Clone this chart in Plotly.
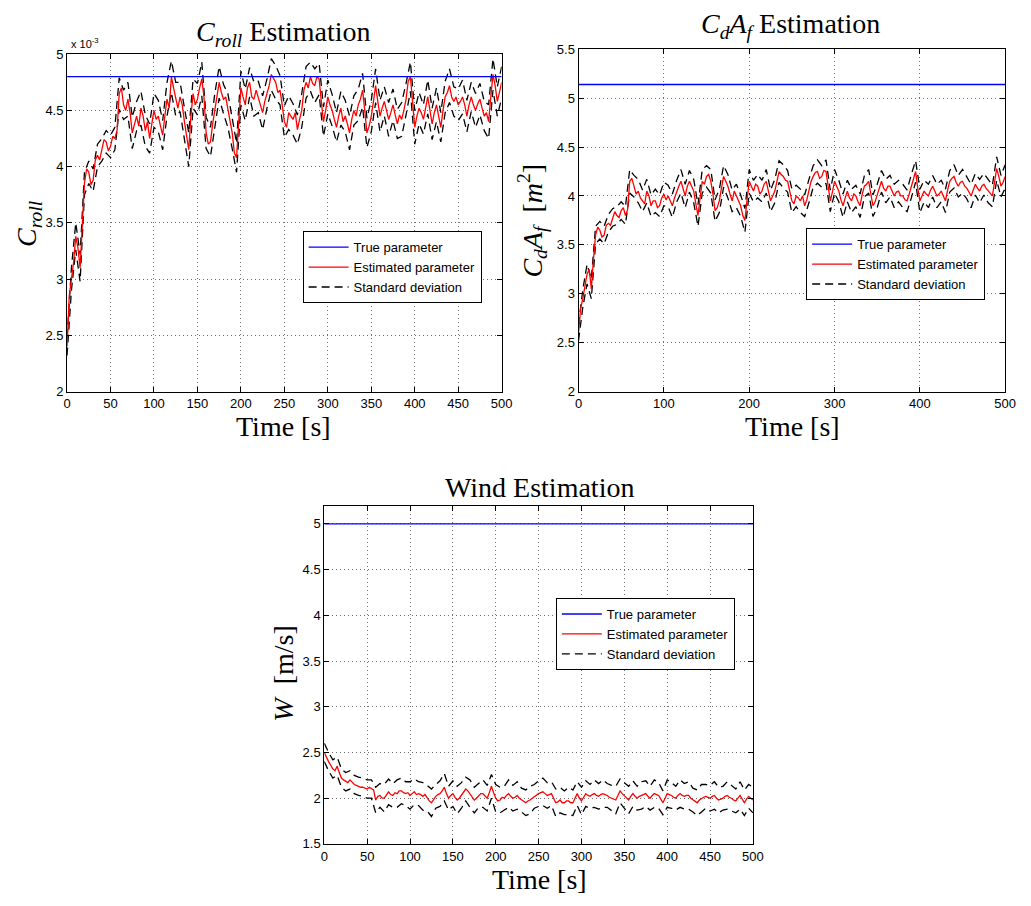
import plotly.graph_objects as go

# ---------------- data ----------------
# fine time grid (2.5 s) for the estimates, coarse grid (5 s) for the std band
time_fine = [i * 2.5 for i in range(201)]
time_s = [i * 5 for i in range(101)]

# C_roll in units of 1e-3
croll_true = 4.8
croll_est = [2.40, 2.85, 3.00, 3.15, 3.38, 3.28, 3.10, 3.50, 3.85, 3.98, 3.95, 3.84, 3.88, 4.06, 4.10, 4.06, 4.15, 4.24, 4.22, 4.14,
             4.18, 4.27, 4.25, 4.32, 4.65, 4.70, 4.55, 4.50, 4.60, 4.48, 4.30, 4.38, 4.45, 4.36, 4.52, 4.45, 4.32, 4.40, 4.25, 4.38,
             4.50, 4.42, 4.45, 4.36, 4.28, 4.45, 4.60, 4.52, 4.80, 4.70, 4.60, 4.52, 4.62, 4.55, 4.40, 4.28, 4.15, 4.45, 4.65, 4.55,
             4.60, 4.70, 4.78, 4.62, 4.30, 4.20, 4.22, 4.38, 4.50, 4.65, 4.75, 4.66, 4.60, 4.62, 4.50, 4.42, 4.30, 4.12, 4.08, 4.40,
             4.70, 4.62, 4.55, 4.70, 4.75, 4.62, 4.60, 4.68, 4.62, 4.55, 4.48, 4.58, 4.65, 4.72, 4.82, 4.78, 4.75, 4.66, 4.68, 4.55,
             4.40, 4.35, 4.48, 4.45, 4.42, 4.48, 4.33, 4.42, 4.50, 4.68, 4.75, 4.70, 4.80, 4.74, 4.72, 4.80, 4.78, 4.58, 4.40, 4.50,
             4.62, 4.55, 4.50, 4.42, 4.35, 4.45, 4.52, 4.40, 4.45, 4.38, 4.30, 4.42, 4.50, 4.45, 4.55, 4.60, 4.68, 4.50, 4.30, 4.36,
             4.45, 4.58, 4.72, 4.58, 4.45, 4.52, 4.58, 4.50, 4.42, 4.48, 4.55, 4.46, 4.38, 4.46, 4.42, 4.50, 4.60, 4.76, 4.80, 4.58,
             4.35, 4.45, 4.52, 4.48, 4.42, 4.52, 4.62, 4.50, 4.38, 4.48, 4.55, 4.45, 4.35, 4.50, 4.62, 4.66, 4.72, 4.62, 4.58, 4.62,
             4.55, 4.58, 4.62, 4.55, 4.45, 4.55, 4.62, 4.55, 4.50, 4.56, 4.60, 4.52, 4.45, 4.48, 4.40, 4.62, 4.82, 4.72, 4.58, 4.66,
             4.75]
croll_sd = [0.08, 0.10, 0.12, 0.12, 0.10, 0.10, 0.10, 0.10, 0.10, 0.10,
            0.10, 0.10, 0.14, 0.13, 0.15, 0.14, 0.13, 0.15, 0.14, 0.13,
            0.15, 0.14, 0.13, 0.15, 0.14, 0.15, 0.13, 0.14, 0.15, 0.13,
            0.14, 0.15, 0.14, 0.13, 0.15, 0.14, 0.13, 0.15, 0.14, 0.13,
            0.15, 0.14, 0.13, 0.15, 0.14, 0.15, 0.13, 0.14, 0.15, 0.13,
            0.14, 0.15, 0.14, 0.13, 0.15, 0.14, 0.13, 0.15, 0.14, 0.13,
            0.15, 0.14, 0.13, 0.15, 0.14, 0.15, 0.13, 0.14, 0.15, 0.13,
            0.14, 0.15, 0.14, 0.13, 0.15, 0.14, 0.13, 0.15, 0.14, 0.13,
            0.15, 0.14, 0.13, 0.15, 0.14, 0.15, 0.13, 0.14, 0.15, 0.13,
            0.14, 0.15, 0.14, 0.13, 0.15, 0.14, 0.13, 0.15, 0.14, 0.13,
            0.14]

cdaf_true = 5.14
cdaf_est = [2.60, 2.85, 2.95, 3.10, 3.20, 3.25, 3.05, 3.35, 3.60, 3.68, 3.65, 3.58, 3.60, 3.70, 3.72, 3.70, 3.78, 3.84, 3.80, 3.78,
            3.85, 3.88, 3.80, 3.86, 4.15, 4.18, 4.10, 4.02, 4.05, 3.98, 3.95, 3.92, 4.05, 4.00, 3.90, 3.95, 3.95, 3.88, 3.90, 3.98,
            4.02, 3.96, 4.00, 3.94, 3.90, 3.98, 4.05, 4.10, 4.15, 4.08, 4.00, 4.10, 4.15, 4.10, 4.05, 3.92, 3.80, 3.98, 4.15, 4.12,
            4.20, 4.22, 4.15, 4.02, 3.85, 3.88, 3.95, 4.08, 4.20, 4.15, 4.10, 4.02, 3.95, 4.05, 4.00, 3.94, 3.90, 3.80, 3.75, 3.96,
            4.15, 4.10, 4.05, 4.12, 4.10, 4.02, 4.05, 4.12, 4.15, 4.05, 3.95, 4.00, 4.05, 4.15, 4.25, 4.22, 4.20, 4.16, 4.15, 4.05,
            3.95, 3.92, 4.00, 3.98, 3.95, 4.00, 3.90, 3.96, 4.05, 4.15, 4.20, 4.24, 4.25, 4.18, 4.20, 4.26, 4.25, 4.10, 3.95, 4.04,
            4.15, 4.10, 4.05, 3.96, 3.90, 3.98, 4.05, 3.98, 3.95, 4.02, 4.00, 3.94, 3.90, 4.02, 4.10, 4.12, 4.15, 4.02, 3.90, 3.94,
            4.00, 4.08, 4.15, 4.08, 4.05, 4.10, 4.10, 4.04, 4.00, 4.04, 4.05, 4.00, 4.00, 3.96, 3.95, 4.02, 4.10, 4.18, 4.25, 4.08,
            3.95, 4.00, 4.05, 4.02, 4.00, 4.06, 4.10, 4.05, 4.00, 4.02, 4.05, 4.00, 3.95, 4.06, 4.15, 4.18, 4.20, 4.14, 4.10, 4.14,
            4.15, 4.10, 4.08, 4.04, 4.00, 4.06, 4.12, 4.08, 4.05, 4.10, 4.12, 4.08, 4.05, 4.02, 4.00, 4.14, 4.28, 4.20, 4.10, 4.14,
            4.20]
cdaf_sd = [0.08, 0.09, 0.10, 0.10, 0.09, 0.09, 0.09, 0.09, 0.09, 0.09,
           0.09, 0.09, 0.12, 0.11, 0.12, 0.11, 0.12, 0.11, 0.12, 0.11,
           0.12, 0.11, 0.12, 0.11, 0.12, 0.12, 0.11, 0.12, 0.11, 0.12,
           0.11, 0.12, 0.11, 0.12, 0.11, 0.12, 0.11, 0.12, 0.11, 0.12,
           0.12, 0.11, 0.12, 0.11, 0.12, 0.11, 0.12, 0.11, 0.12, 0.11,
           0.12, 0.11, 0.12, 0.11, 0.12, 0.11, 0.12, 0.11, 0.12, 0.11,
           0.12, 0.11, 0.12, 0.11, 0.12, 0.11, 0.12, 0.11, 0.12, 0.11,
           0.12, 0.11, 0.12, 0.11, 0.12, 0.11, 0.12, 0.11, 0.12, 0.11,
           0.12, 0.11, 0.12, 0.11, 0.12, 0.11, 0.12, 0.11, 0.12, 0.11,
           0.12, 0.11, 0.12, 0.11, 0.12, 0.11, 0.12, 0.11, 0.12, 0.11,
           0.12]

wind_true = 5.0
wind_est = [2.50, 2.44, 2.40, 2.36, 2.32, 2.30, 2.35, 2.28, 2.22, 2.20, 2.18, 2.17, 2.20, 2.17, 2.15, 2.14, 2.13, 2.12, 2.12, 2.11,
            2.10, 2.12, 2.10, 2.09, 1.98, 2.02, 2.03, 2.00, 2.00, 2.04, 2.07, 2.04, 2.03, 2.06, 2.05, 2.08, 2.08, 2.06, 2.05, 2.06,
            2.03, 2.05, 2.07, 2.04, 2.05, 2.04, 2.02, 2.04, 2.00, 1.97, 1.95, 1.99, 2.02, 2.04, 2.05, 2.08, 2.12, 2.05, 2.00, 2.03,
            2.05, 2.01, 1.98, 2.00, 2.03, 2.07, 2.10, 2.08, 2.05, 2.01, 1.98, 2.00, 2.03, 2.05, 2.05, 2.02, 2.00, 2.06, 2.13, 2.06,
            2.00, 1.97, 1.98, 2.01, 2.00, 2.03, 2.05, 2.02, 2.00, 2.01, 2.03, 2.00, 1.98, 1.96, 1.95, 1.97, 1.98, 2.00, 2.02, 2.04,
            2.05, 2.06, 2.07, 2.05, 2.03, 2.04, 2.05, 2.00, 1.95, 1.96, 1.98, 1.95, 1.95, 1.97, 1.97, 1.95, 1.95, 2.00, 2.05, 2.00,
            1.97, 2.01, 2.05, 2.03, 2.02, 2.04, 2.05, 2.03, 2.02, 2.04, 2.05, 2.04, 2.03, 2.01, 2.00, 1.99, 1.98, 2.03, 2.08, 2.05,
            2.03, 2.00, 1.98, 2.02, 2.05, 2.02, 2.00, 2.02, 2.03, 2.04, 2.05, 2.02, 2.00, 2.03, 2.05, 2.04, 2.03, 1.99, 1.95, 2.00,
            2.05, 2.04, 2.03, 2.01, 2.00, 2.03, 2.05, 2.03, 2.02, 2.03, 2.03, 2.00, 1.98, 1.96, 1.95, 1.98, 2.00, 2.01, 2.02, 2.01,
            2.00, 2.02, 2.03, 2.00, 1.98, 1.99, 2.00, 2.02, 2.03, 2.01, 2.00, 1.98, 1.97, 2.00, 2.03, 1.99, 1.95, 1.99, 2.02, 2.00,
            1.98]
wind_sd = [0.10, 0.10, 0.10, 0.10, 0.10, 0.10, 0.10, 0.10, 0.10, 0.10,
           0.10, 0.10, 0.14, 0.13, 0.15, 0.14, 0.13, 0.15, 0.14, 0.13,
           0.15, 0.14, 0.13, 0.15, 0.14, 0.15, 0.13, 0.14, 0.15, 0.13,
           0.14, 0.15, 0.14, 0.13, 0.15, 0.14, 0.13, 0.15, 0.14, 0.13,
           0.15, 0.14, 0.13, 0.15, 0.14, 0.15, 0.13, 0.14, 0.15, 0.13,
           0.14, 0.15, 0.14, 0.13, 0.15, 0.14, 0.13, 0.15, 0.14, 0.13,
           0.15, 0.14, 0.13, 0.15, 0.14, 0.15, 0.13, 0.14, 0.15, 0.13,
           0.14, 0.15, 0.14, 0.13, 0.15, 0.14, 0.13, 0.15, 0.14, 0.13,
           0.15, 0.14, 0.13, 0.15, 0.14, 0.15, 0.13, 0.14, 0.15, 0.13,
           0.14, 0.15, 0.14, 0.13, 0.15, 0.14, 0.13, 0.15, 0.14, 0.13,
           0.14]

for arr in (croll_est, cdaf_est, wind_est):
    assert len(arr) == len(time_fine), len(arr)
for arr in (croll_sd, cdaf_sd, wind_sd):
    assert len(arr) == len(time_s), len(arr)

legend_labels = ["True parameter", "Estimated parameter", "Standard deviation"]

# ---------------- figure ----------------
W, H = 1031, 906
def px(x): return x / W
def py(y): return 1 - y / H

SERIF = "Liberation Serif, Times New Roman, serif"
SANS = "Liberation Sans, Arial, Helvetica, sans-serif"

fig = go.Figure()

panels = [
    ("x", "y", "legend", croll_est, croll_sd, croll_true),
    ("x2", "y2", "legend2", cdaf_est, cdaf_sd, cdaf_true),
    ("x3", "y3", "legend3", wind_est, wind_sd, wind_true),
]

DASH = "8px,5px"
for xa, ya, lg, est, sd, true_v in panels:
    est_coarse = est[::2]
    upper = [e + s for e, s in zip(est_coarse, sd)]
    lower = [e - s for e, s in zip(est_coarse, sd)]
    fig.add_trace(go.Scatter(x=time_s, y=upper, mode="lines", xaxis=xa, yaxis=ya,
                             line=dict(color="black", width=1.3, dash=DASH),
                             name=legend_labels[2], legend=lg, legendrank=3, showlegend=True))
    fig.add_trace(go.Scatter(x=time_s, y=lower, mode="lines", xaxis=xa, yaxis=ya,
                             line=dict(color="black", width=1.3, dash=DASH),
                             name=legend_labels[2], legend=lg, showlegend=False))
    fig.add_trace(go.Scatter(x=time_fine, y=est, mode="lines", xaxis=xa, yaxis=ya,
                             line=dict(color="#ff0000", width=1.3),
                             name=legend_labels[1], legend=lg, legendrank=2))
    fig.add_trace(go.Scatter(x=[time_fine[0], time_fine[-1]], y=[true_v, true_v], mode="lines",
                             xaxis=xa, yaxis=ya,
                             line=dict(color="#0000ff", width=1.3),
                             name=legend_labels[0], legend=lg, legendrank=1))

axis_common = dict(showline=True, linecolor="black", linewidth=1, mirror="ticks",
                   ticks="inside", ticklen=5, tickcolor="black",
                   showgrid=True, gridcolor="#707070", griddash="1px,3px", gridwidth=1,
                   zeroline=False, tickfont=dict(family=SANS, size=13, color="black"))

fig.update_layout(
    width=W, height=H, margin=dict(l=0, r=0, t=0, b=0),
    paper_bgcolor="white", plot_bgcolor="white",
    xaxis=dict(domain=[px(64), px(505)], range=[0, 500], anchor="y",
               tickvals=list(range(0, 501, 50)), **axis_common),
    yaxis=dict(domain=[py(391), py(48)], range=[2, 5], anchor="x",
               tickvals=[2, 2.5, 3, 3.5, 4, 4.5, 5], ticktext=["2", "2.5", "3", "3.5", "4", "4.5", "5"],
               **axis_common),
    xaxis2=dict(domain=[px(583), px(1016)], range=[0, 500], anchor="y2",
                tickvals=list(range(0, 501, 100)), **axis_common),
    yaxis2=dict(domain=[py(391), py(43)], range=[2, 5.5], anchor="x2",
                tickvals=[2, 2.5, 3, 3.5, 4, 4.5, 5, 5.5],
                ticktext=["2", "2.5", "3", "3.5", "4", "4.5", "5", "5.5"], **axis_common),
    xaxis3=dict(domain=[px(325), px(760)], range=[0, 500], anchor="y3",
                tickvals=list(range(0, 501, 50)), **axis_common),
    yaxis3=dict(domain=[py(851), py(507)], range=[1.5, 5.2], anchor="x3",
                tickvals=[1.5, 2, 2.5, 3, 3.5, 4, 4.5, 5],
                ticktext=["1.5", "2", "2.5", "3", "3.5", "4", "4.5", "5"], **axis_common),
)

legend_common = dict(bgcolor="white", bordercolor="black", borderwidth=1,
                     font=dict(family=SANS, size=13, color="black"),
                     itemwidth=40, xanchor="left", yanchor="top",
                     xref="paper", yref="paper", tracegroupgap=0)
fig.update_layout(
    legend=dict(x=px(303), y=py(228), **legend_common),
    legend2=dict(x=px(814), y=py(225), **legend_common),
    legend3=dict(x=px(560), y=py(601), **legend_common),
)

def ann(text, x, y, size=28, family=SERIF, angle=0):
    fig.add_annotation(text=text, x=px(x), y=py(y), xref="paper", yref="paper",
                       showarrow=False, xanchor="center", yanchor="middle",
                       textangle=angle, font=dict(family=family, size=size, color="black"))

# titles
ann("<i>C</i><sub><i>roll</i></sub> Estimation", 284, 27)
ann("<i>C</i><sub><i>d</i></sub><i>A</i><sub><i>f</i></sub> Estimation", 798, 19)
ann("Wind Estimation", 543, 489)
# x titles
ann("Time [s]", 284, 427)
ann("Time [s]", 800, 427)
ann("Time [s]", 543, 887)
# y titles
ann("<i>C</i><sub><i>roll</i></sub>", 25, 220, angle=-90)
ann("<i>C</i><sub><i>d</i></sub><i>A</i><sub><i>f</i></sub>  [<i>m</i><sup>2</sup>]", 536, 217, angle=-90)
ann("<i>W</i>  [m/s]", 284, 678, angle=-90)
# exponent label
ann("x 10<sup>-3</sup>", 82, 37, size=11, family=SANS)

fig.write_html("out.html")
